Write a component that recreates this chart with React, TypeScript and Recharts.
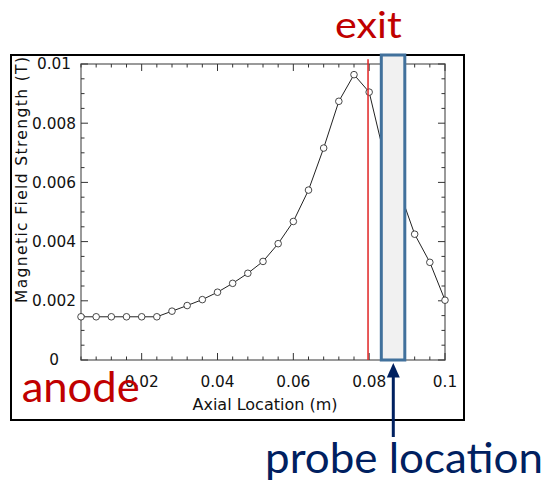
import { Label, Line, LineChart, ReferenceArea, ReferenceLine, XAxis, YAxis } from "recharts";

const axialLocation = [
  0.004, 0.008, 0.012, 0.016, 0.02, 0.024, 0.028, 0.032, 0.036, 0.04, 0.044, 0.048, 0.052,
  0.056, 0.06, 0.064, 0.068, 0.072, 0.076, 0.08, 0.084, 0.088, 0.092, 0.096, 0.1,
];
const fieldStrength = [
  0.00146, 0.00146, 0.00146, 0.00146, 0.00146, 0.00146, 0.00165, 0.00184, 0.00204, 0.00229,
  0.00259, 0.00293, 0.00333, 0.00393, 0.00468, 0.00574, 0.00716, 0.00874, 0.00964, 0.00905,
  0.0069, 0.0057, 0.00425, 0.0033, 0.00202,
];
const xTickLabels = [0.02, 0.04, 0.06, 0.08, 0.1];
const yTickLabels = [0, 0.002, 0.004, 0.006, 0.008, 0.01];
const xMinorTicks = axialLocation;
const yMinorTicks = [
  0, 0.0005, 0.001, 0.0015, 0.002, 0.0025, 0.003, 0.0035, 0.004, 0.0045, 0.005, 0.0055, 0.006,
  0.0065, 0.007, 0.0075, 0.008, 0.0085, 0.009, 0.0095, 0.01,
];
const exitLocation = 0.0797;
const probeStart = 0.0832;
const probeEnd = 0.0894;

const data = axialLocation.map((x, i) => ({ x, b: fieldStrength[i] }));

const X_MIN = 0.004;
const X_MAX = 0.1;
const Y_MAX = 0.01;
// tick lengths expressed in data units (~7px major, ~3.5px minor)
const XT_MAJ = 0.000236;
const XT_MIN = 0.000118;
const YT_MAJ = 0.00185;
const YT_MIN = 0.00093;

const tickFont = { fontFamily: "DejaVu Sans", fontSize: 15.3, fill: "#111" };
const fmt = (v: number) => (v === 0 ? "0" : String(Number(v.toFixed(4))));
const isMajorX = (v: number) => Math.abs(v / 0.02 - Math.round(v / 0.02)) < 1e-6;
const isMajorY = (v: number) => Math.abs(v / 0.002 - Math.round(v / 0.002)) < 1e-6;

function YLabel(props: any) {
  const vb = props.viewBox || {};
  const cx = vb.x + 17;
  const cy = vb.y + vb.height / 2 - 32;
  return (
    <text
      x={cx}
      y={cy}
      transform={`rotate(-90 ${cx} ${cy})`}
      textAnchor="middle"
      dominantBaseline="central"
      fontFamily="DejaVu Sans"
      fontSize={15.5}
      fill="#111"
      textLength={246}
      lengthAdjust="spacing"
    >
      Magnetic Field Strength (T)
    </text>
  );
}

function XLabel(props: any) {
  const vb = props.viewBox || {};
  return (
    <text
      x={vb.x + vb.width / 2 + 2}
      y={vb.y + vb.height}
      textAnchor="middle"
      fontFamily="DejaVu Sans"
      fontSize={16}
      fill="#111"
    >
      Axial Location (m)
    </text>
  );
}

export default function App() {
  return (
    <div style={{ position: "fixed", left: 0, top: 0, width: 549, height: 483, background: "#fff" }}>
      <div
        style={{
          position: "absolute",
          left: 10,
          top: 54,
          width: 455,
          height: 367,
          border: "2px solid #000",
          boxSizing: "border-box",
        }}
      />
      <div style={{ position: "absolute", left: 0, top: 0 }}>
        <LineChart width={549} height={483} data={data} margin={{ top: 64, right: 104, bottom: 73, left: 5 }}>
          <XAxis
            dataKey="x"
            type="number"
            domain={[X_MIN, X_MAX]}
            ticks={xTickLabels}
            tickFormatter={fmt}
            tickLine={false}
            axisLine={false}
            tickSize={0}
            tickMargin={16}
            tick={tickFont}
            height={50}
          >
            <Label content={XLabel} />
          </XAxis>
          <YAxis
            type="number"
            domain={[0, Y_MAX]}
            ticks={yTickLabels}
            tickFormatter={fmt}
            tickLine={false}
            axisLine={false}
            tickSize={0}
            tickMargin={27}
            tick={{ ...tickFont, textAnchor: "middle" }}
            width={76}
          >
            <Label content={YLabel} />
          </YAxis>

          <ReferenceArea
            x1={X_MIN}
            x2={X_MAX}
            y1={0}
            y2={Y_MAX}
            fill="none"
            fillOpacity={0}
            stroke="#7a7a7a"
            strokeWidth={1.5}
          />
          {xMinorTicks.map((v) => (
            <ReferenceLine
              key={`xb${v}`}
              segment={[{ x: v, y: 0 }, { x: v, y: isMajorX(v) ? XT_MAJ : XT_MIN }]}
              stroke="#333"
              strokeWidth={1}
            />
          ))}
          {xMinorTicks.map((v) => (
            <ReferenceLine
              key={`xt${v}`}
              segment={[{ x: v, y: Y_MAX }, { x: v, y: Y_MAX - (isMajorX(v) ? XT_MAJ : XT_MIN) }]}
              stroke="#333"
              strokeWidth={1}
            />
          ))}
          {yMinorTicks.map((v) => (
            <ReferenceLine
              key={`yl${v}`}
              segment={[{ x: X_MIN, y: v }, { x: X_MIN + (isMajorY(v) ? YT_MAJ : YT_MIN), y: v }]}
              stroke="#333"
              strokeWidth={1}
            />
          ))}
          {yMinorTicks.map((v) => (
            <ReferenceLine
              key={`yr${v}`}
              segment={[{ x: X_MAX, y: v }, { x: X_MAX - (isMajorY(v) ? YT_MAJ : YT_MIN), y: v }]}
              stroke="#333"
              strokeWidth={1}
            />
          ))}

          <Line
            dataKey="b"
            type="linear"
            stroke="#222"
            strokeWidth={1}
            dot={{ r: 3.3, stroke: "#333", strokeWidth: 0.9, fill: "#fff" }}
            activeDot={false}
            isAnimationActive={false}
          />

          <ReferenceLine
            segment={[{ x: exitLocation, y: 0 }, { x: exitLocation, y: 0.01016 }]}
            stroke="#e02424"
            strokeWidth={1.5}
            ifOverflow="visible"
            zIndex={600}
          />
          <ReferenceArea
            x1={probeStart}
            x2={probeEnd}
            y1={0}
            y2={0.0103}
            fill="#f1f1f1"
            fillOpacity={1}
            stroke="#41719c"
            strokeWidth={3}
            ifOverflow="visible"
            zIndex={700}
          />
        </LineChart>
      </div>
      <svg
        width={549}
        height={483}
        style={{ position: "absolute", left: 0, top: 0, pointerEvents: "none" }}
      >
        <text
          x={335}
          y={38.3}
          fontFamily="Lato"
          fontSize={37}
          fill="#c00000"
          textLength={66.7}
          lengthAdjust="spacingAndGlyphs"
        >
          exit
        </text>
        <text
          x={21.7}
          y={401.7}
          fontFamily="Lato"
          fontSize={42}
          fill="#c00000"
          textLength={118}
          lengthAdjust="spacingAndGlyphs"
        >
          anode
        </text>
        <line x1={393.3} y1={375} x2={393.3} y2={437} stroke="#002060" strokeWidth={3} />
        <polygon points="393.3,363 386.8,377.5 399.8,377.5" fill="#002060" />
        <text
          x={265}
          y={473.3}
          fontFamily="Lato"
          fontSize={43}
          fill="#002060"
          textLength={278}
          lengthAdjust="spacingAndGlyphs"
        >
          probe location
        </text>
      </svg>
    </div>
  );
}
